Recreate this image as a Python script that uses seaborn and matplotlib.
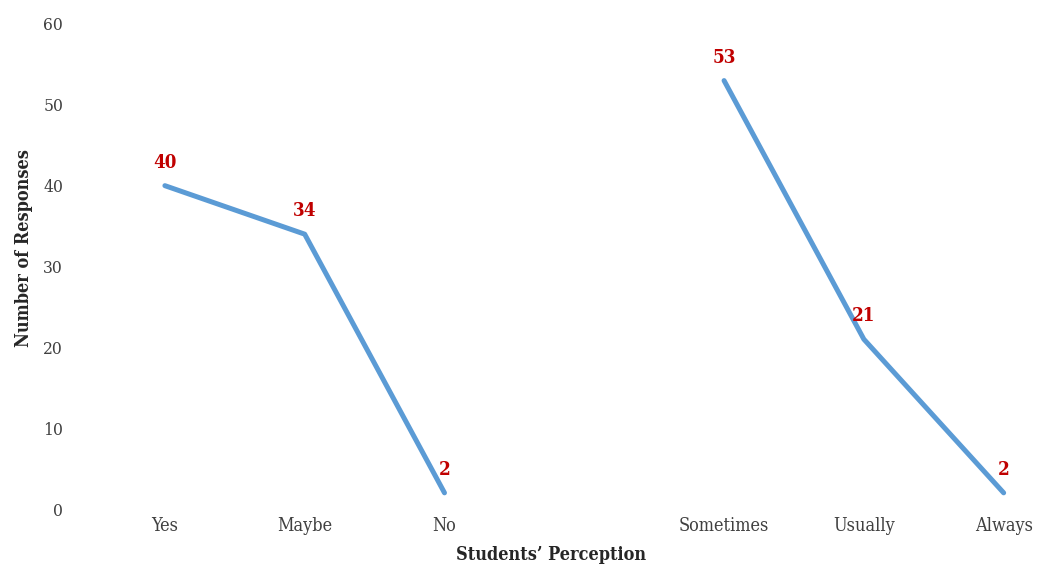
import seaborn as sns
import pandas as pd
from matplotlib import pyplot as plt

# chart data
categories = ['Yes', 'Maybe', 'No', '', 'Sometimes', 'Usually', 'Always']
responses = [40, 34, 2, None, 53, 21, 2]
groups = ['a', 'a', 'a', None, 'b', 'b', 'b']

df = pd.DataFrame({'pos': range(len(categories)), 'responses': responses,
                   'group': groups}).dropna()

sns.set_style('white')
plt.rcParams['font.family'] = ['DejaVu Serif']
plt.rcParams['font.stretch'] = 'condensed'

fig = plt.figure(figsize=(10.52, 5.69), dpi=100)
ax = fig.add_axes([95 / 1052, 60 / 569, (1040 - 95) / 1052, 485 / 569])

line_color = '#5B9BD5'
sns.lineplot(df, x='pos', y='responses', hue='group',
             palette=[line_color, line_color], linewidth=3.6,
             legend=False, ax=ax, solid_capstyle='round')

# data labels
for _, row in df.iterrows():
    ax.annotate(f"{int(row['responses'])}", (row['pos'], row['responses']),
                xytext=(0, 10), textcoords='offset points',
                ha='center', va='bottom', color='#C00000',
                fontweight='bold', fontsize=13.5)

ax.set_xlim(-0.5, 6.26)
ax.set_ylim(0, 60)
ax.set_yticks([0, 10, 20, 30, 40, 50, 60])
ax.set_xticks(range(len(categories)))
ax.set_xticklabels(categories)
ax.tick_params(axis='y', length=0, pad=23, labelsize=12.5, labelcolor='#404040')
ax.tick_params(axis='x', length=0, pad=6, labelsize=13, labelcolor='#404040')
for s in ax.spines.values():
    s.set_visible(False)
ax.grid(False)

ax.set_xlabel("Students\u2019 Perception", fontsize=13, fontweight='bold')
ax.set_ylabel('Number of Responses', fontsize=13, fontweight='bold')
ax.xaxis.set_label_coords(0.4825, -0.076)
ax.yaxis.set_label_coords(-0.066, 0.537)

plt.savefig('out.png', dpi=100)
